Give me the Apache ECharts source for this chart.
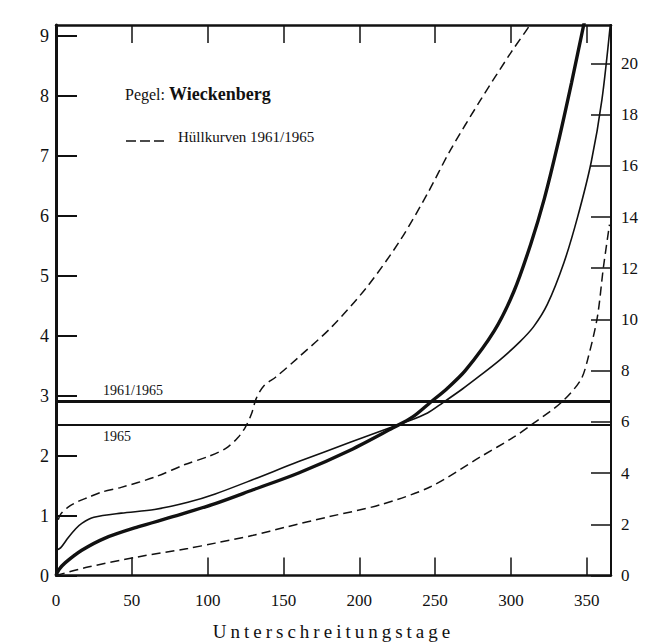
<!DOCTYPE html>
<html>
<head>
<meta charset="utf-8">
<script src="https://cdn.jsdelivr.net/npm/echarts@6/dist/echarts.min.js"></script>
<style>
  html, body { margin: 0; padding: 0; background: #fff; }
  #chart { width: 648px; height: 643px; }
</style>
</head>
<body>
<div id="chart"></div>
<script>
// Dauerlinien der Wasserstände am Pegel Wieckenberg
// x: Unterschreitungstage, y links: Wasserstand, y rechts: zweite Skala

// Tick labels
const dayLabels = [0, 50, 100, 150, 200, 250, 300, 350];
const leftLabels = [0, 1, 2, 3, 4, 5, 6, 7, 8, 9];
const rightLabels = [0, 2, 4, 6, 8, 10, 12, 14, 16, 18, 20];

// Mittlere Dauerlinie 1961/1965 (dick)
const meanDays   = [0, 2, 6, 17, 32, 54, 77, 105, 130, 160, 194, 222, 235, 247, 258, 270, 289, 302, 313, 322, 331, 340, 348, 352];
const meanLevels = [0, 0.10, 0.21, 0.42, 0.62, 0.81, 0.98, 1.20, 1.43, 1.71, 2.09, 2.46, 2.64, 2.89, 3.12, 3.42, 4.08, 4.74, 5.52, 6.28, 7.20, 8.22, 9.18, 9.60];

// Dauerlinie 1965 (dünn)
const y1965Days   = [0, 3, 8, 13, 17, 25, 43, 65, 87, 105, 130, 160, 194, 222, 230, 245, 255, 268, 280, 293, 306, 315, 324, 335, 344, 353, 360, 366];
const y1965Levels = [0.42, 0.46, 0.63, 0.78, 0.87, 0.97, 1.04, 1.10, 1.22, 1.36, 1.60, 1.90, 2.22, 2.48, 2.55, 2.71, 2.88, 3.11, 3.34, 3.60, 3.90, 4.15, 4.52, 5.22, 5.98, 6.90, 7.93, 9.30];

// Hüllkurven 1961/1965 (gestrichelt)
const upperHullDays   = [0, 1, 3, 8, 15, 21, 30, 43, 65, 85, 101, 112, 120, 125, 129, 132, 137, 145, 160, 182, 205, 227, 245, 260, 280, 300, 313, 318];
const upperHullLevels = [0.70, 0.88, 1.02, 1.14, 1.24, 1.30, 1.39, 1.47, 1.64, 1.85, 1.99, 2.12, 2.30, 2.48, 2.70, 2.95, 3.16, 3.31, 3.64, 4.15, 4.81, 5.59, 6.37, 7.09, 7.93, 8.72, 9.20, 9.45];
const lowerHullDays   = [0, 21, 54, 87, 105, 130, 152, 180, 214, 247, 280, 302, 315, 333, 346, 351, 357, 361, 365];
const lowerHullLevels = [0.00, 0.14, 0.31, 0.45, 0.54, 0.67, 0.81, 0.98, 1.18, 1.48, 1.98, 2.31, 2.54, 2.88, 3.26, 3.64, 4.31, 5.14, 5.85];

// Horizontale Bezugslinien
const refLevels = [2.90, 2.52];
const refNames  = ['1961/1965', '1965'];

const pairs = (xs, ys) => xs.map((x, i) => [x, ys[i]]);

const SERIF = '"Liberation Serif", "DejaVu Serif", serif';
const INK = '#111';

const chart = echarts.init(document.getElementById('chart'), null, {
  renderer: 'svg', width: 648, height: 643
});

const lineBase = {
  type: 'line',
  showSymbol: false,
  symbol: 'none',
  smooth: 0.3,
  clip: true,
  silent: true,
  xAxisIndex: 0,
  yAxisIndex: 0
};

chart.setOption({
  animation: false,
  backgroundColor: '#fff',
  grid: {
    left: 56, right: 37, top: 25, bottom: 67.5,
    containLabel: false, outerBoundsMode: 'none'
  },
  xAxis: [
    {
      type: 'value', position: 'bottom',
      min: 0, max: 366, interval: 50,
      axisLine: { show: true, onZero: false, lineStyle: { color: INK, width: 2.5 } },
      axisTick: { show: true, inside: true, length: 18, lineStyle: { color: INK, width: 1.5 } },
      axisLabel: {
        margin: 16, color: INK, fontFamily: SERIF, fontSize: 17,
        formatter: v => dayLabels.includes(v) ? String(v) : ''
      },
      splitLine: { show: false },
      name: 'Unterschreitungstage',
      nameLocation: 'middle', nameGap: 46,
      nameTextStyle: { color: INK, fontFamily: SERIF, fontSize: 19 }
    },
    {
      // obere Rahmenlinie mit Teilstrichen
      type: 'value', position: 'top',
      min: -35, max: 331, interval: 50,
      axisLine: { show: true, onZero: false, lineStyle: { color: INK, width: 2.5 } },
      axisTick: { show: true, inside: true, length: 18, lineStyle: { color: INK, width: 1.5 } },
      axisLabel: { show: false },
      splitLine: { show: false }
    }
  ],
  yAxis: [
    {
      type: 'value', position: 'left',
      min: 0, max: 9.18, interval: 1,
      axisLine: { show: true, onZero: false, lineStyle: { color: INK, width: 3 } },
      axisTick: { show: true, inside: true, length: 21, lineStyle: { color: INK, width: 2 } },
      axisLabel: {
        margin: 7, color: INK, fontFamily: SERIF, fontSize: 18,
        showMaxLabel: false,
        formatter: v => leftLabels.includes(v) ? String(v) : ''
      },
      splitLine: { show: false }
    },
    {
      type: 'value', position: 'right',
      min: 0, max: 21.5, interval: 2,
      axisLine: { show: true, onZero: false, lineStyle: { color: INK, width: 2 } },
      axisTick: { show: true, inside: true, length: 20, lineStyle: { color: INK, width: 1.5 } },
      axisLabel: {
        margin: 10, color: INK, fontFamily: SERIF, fontSize: 17,
        showMaxLabel: false,
        formatter: v => rightLabels.includes(v) ? String(v) : ''
      },
      splitLine: { show: false }
    }
  ],
  graphic: [
    {
      type: 'text', left: 125, top: 85, silent: true,
      style: {
        text: '{a|Pegel: }{b|Wieckenberg}',
        rich: {
          a: { fontFamily: SERIF, fontSize: 16, fill: INK },
          b: { fontFamily: SERIF, fontSize: 18, fontWeight: 'bold', fill: INK }
        }
      }
    },
    {
      type: 'line', silent: true,
      shape: { x1: 126, y1: 141, x2: 164, y2: 141 },
      style: { stroke: INK, lineWidth: 1.6, lineDash: [10, 4] }
    },
    {
      type: 'text', left: 178, top: 129, silent: true,
      style: { text: 'Hüllkurven 1961/1965', fontFamily: SERIF, fontSize: 15, fill: INK }
    }
  ],
  series: [
    Object.assign({}, lineBase, {
      name: 'Hüllkurve oben',
      data: pairs(upperHullDays, upperHullLevels),
      lineStyle: { color: INK, width: 1.5, type: [9, 5] }
    }),
    Object.assign({}, lineBase, {
      name: 'Hüllkurve unten',
      data: pairs(lowerHullDays, lowerHullLevels),
      lineStyle: { color: INK, width: 1.5, type: [9, 5] }
    }),
    Object.assign({}, lineBase, {
      name: '1965',
      data: pairs(y1965Days, y1965Levels),
      lineStyle: { color: INK, width: 1.6 }
    }),
    Object.assign({}, lineBase, {
      name: '1961/1965',
      data: pairs(meanDays, meanLevels),
      lineStyle: { color: INK, width: 3.4 },
      markLine: {
        silent: true,
        symbol: ['none', 'none'],
        animation: false,
        data: [
          {
            yAxis: refLevels[0],
            lineStyle: { color: INK, width: 3, type: 'solid' },
            label: {
              show: true, position: 'insideStartTop', distance: [47, 4],
              formatter: refNames[0], color: INK, fontFamily: SERIF, fontSize: 14
            }
          },
          {
            yAxis: refLevels[1],
            lineStyle: { color: INK, width: 2, type: 'solid' },
            label: {
              show: true, position: 'insideStartBottom', distance: [47, 5],
              formatter: refNames[1], color: INK, fontFamily: SERIF, fontSize: 14
            }
          }
        ]
      }
    })
  ]
});

// gesperrte Achsenbeschriftung
function spaceAxisName() {
  document.querySelectorAll('#chart svg text').forEach(t => {
    if (t.textContent === 'Unterschreitungstage') {
      t.style.letterSpacing = '4px';
    }
  });
}
spaceAxisName();
chart.on('finished', spaceAxisName);
</script>
</body>
</html>
